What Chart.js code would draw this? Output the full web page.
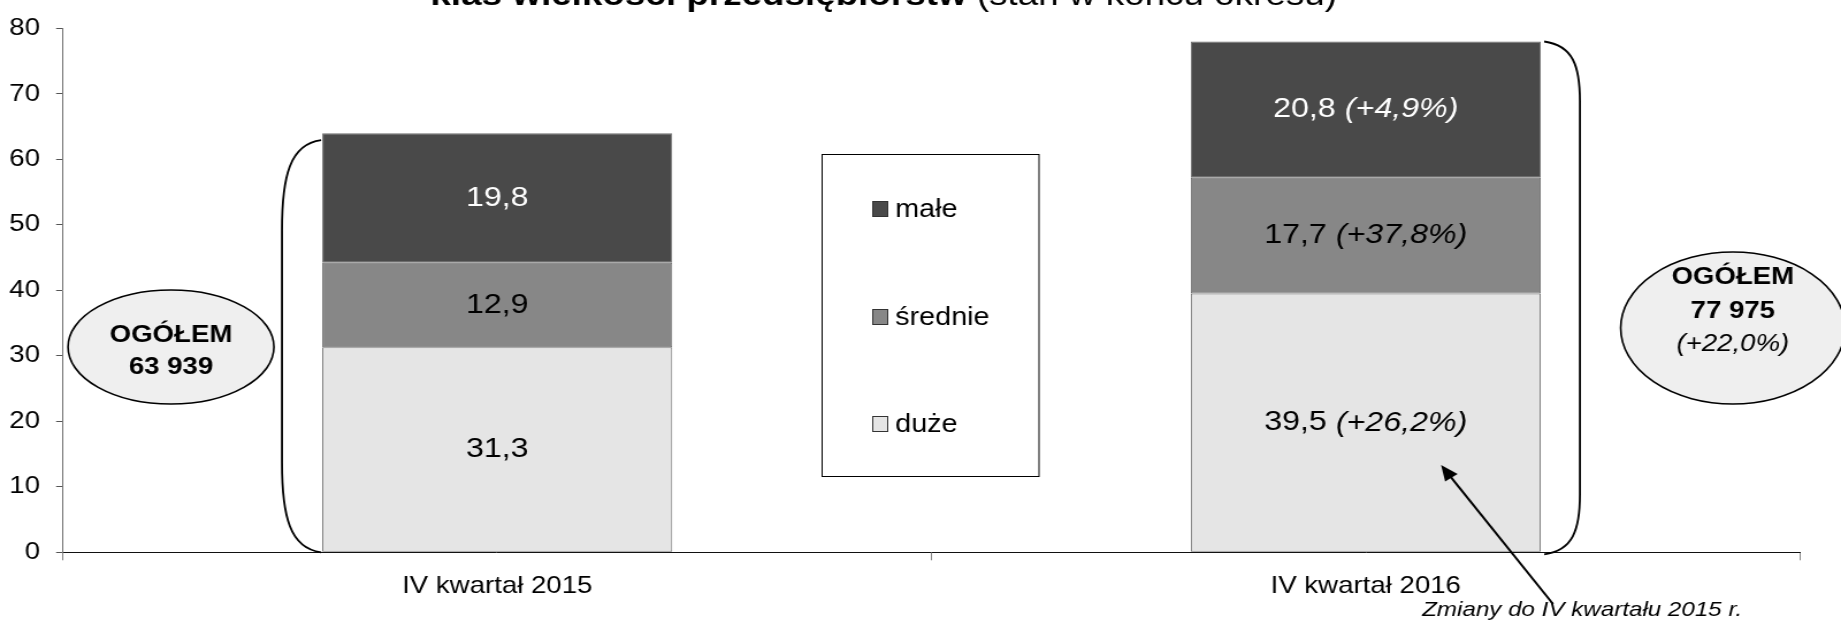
<!DOCTYPE html>
<html lang="pl">
<head>
<meta charset="utf-8">
<script src="https://cdn.jsdelivr.net/npm/chart.js@4.4.1/dist/chart.umd.min.js"></script>
<style>
  html, body { margin: 0; padding: 0; background: #fff; overflow: hidden; }
</style>
</head>
<body>
<!-- the original picture is stretched sideways, so the canvas is drawn narrower and widened by css -->
<canvas id="chart" width="1600" height="620" style="display:block;width:1841px;height:620px"></canvas>
<script>
const categories = ['IV kwartał 2015', 'IV kwartał 2016'];
const seriesNames = ['duże', 'średnie', 'małe'];
const duze = [31.3, 39.5];
const srednie = [12.9, 17.7];
const male = [19.8, 20.8];
// zmiany do IV kwartału 2015 r. w %
const duzeChange = [null, 26.2];
const srednieChange = [null, 37.8];
const maleChange = [null, 4.9];
const totals = ['63 939', '77 975'];
const totalChange = [null, 22.0];
const yTicks = [0, 10, 20, 30, 40, 50, 60, 70, 80];

const colors = ['#e5e5e5', '#878787', '#494949'];
const labelColors = ['#000', '#000', '#fff'];
const FONT = '"Liberation Sans", Arial, sans-serif';

Chart.defaults.font.family = FONT;
Chart.defaults.color = '#000';

function fmt(v) { return v.toFixed(1).replace('.', ','); }
function fmtChange(v) { return '(+' + fmt(v) + '%)'; }

// rysowanie nawiasu obok słupka
function bracket(ctx, x0, y0, y1, dx, bend) {
    const xe = x0 + dx;
    ctx.beginPath();
    ctx.moveTo(x0, y0);
    ctx.bezierCurveTo(x0 + dx * 0.8, y0 + 4, xe, y0 + bend * 0.4, xe, y0 + bend);
    ctx.lineTo(xe, y1 - bend);
    ctx.bezierCurveTo(xe, y1 - bend * 0.4, x0 + dx * 0.8, y1 - 4, x0, y1);
    ctx.stroke();
}

function bubble(ctx, cx, cy, rx, ry, lines) {
    ctx.beginPath();
    ctx.ellipse(cx, cy, rx, ry, 0, 0, Math.PI * 2);
    ctx.fillStyle = '#efefef';
    ctx.fill();
    ctx.lineWidth = 1.6;
    ctx.strokeStyle = '#000';
    ctx.stroke();
    ctx.fillStyle = '#000';
    ctx.textAlign = 'center';
    ctx.textBaseline = 'middle';
    lines.forEach(l => {
        ctx.font = l.font;
        ctx.fillText(l.text, cx, l.y);
    });
}

const extras = {
    id: 'extras',
    afterDatasetsDraw(chart) {
        const ctx = chart.ctx;
        const yScale = chart.scales.y;
        const metas = [0, 1, 2].map(i => chart.getDatasetMeta(i));
        const changes = [duzeChange, srednieChange, maleChange];
        ctx.save();

        // etykiety wartości w segmentach
        metas.forEach((meta, d) => {
            meta.data.forEach((bar, i) => {
                const value = chart.data.datasets[d].data[i];
                const cy = (bar.y + bar.base) / 2;
                const main = fmt(value);
                const ch = changes[d][i];
                ctx.fillStyle = labelColors[d];
                ctx.textBaseline = 'middle';
                ctx.textAlign = 'left';
                ctx.font = '28px ' + FONT;
                const w1 = ctx.measureText(main).width;
                let w2 = 0, extra = '';
                if (ch !== null) {
                    extra = ' ' + fmtChange(ch);
                    ctx.font = 'italic 28px ' + FONT;
                    w2 = ctx.measureText(extra).width;
                }
                const x = bar.x - (w1 + w2) / 2;
                ctx.font = '28px ' + FONT;
                ctx.fillText(main, x, cy);
                if (extra) {
                    ctx.font = 'italic 28px ' + FONT;
                    ctx.fillText(extra, x + w1, cy);
                }
            });
        });

        // nawiasy
        const top0 = metas[2].data[0], top1 = metas[2].data[1];
        const zero = yScale.getPixelForValue(0);
        ctx.strokeStyle = '#000';
        ctx.lineWidth = 1.8;
        bracket(ctx, top0.x - top0.width / 2 - 1, top0.y + 7, zero, -34, 90);
        bracket(ctx, top1.x + top1.width / 2 + 3, top1.y, zero + 2, 31, 60);

        // elipsy z sumą
        bubble(ctx, 148.6, 347, 89.5, 57, [
            { text: 'OGÓŁEM', y: 335, font: 'bold 24px ' + FONT },
            { text: totals[0], y: 367, font: 'bold 24px ' + FONT }
        ]);
        bubble(ctx, 1506, 328, 97.5, 76, [
            { text: 'OGÓŁEM', y: 277, font: 'bold 24px ' + FONT },
            { text: totals[1], y: 311, font: 'bold 24px ' + FONT },
            { text: fmtChange(totalChange[1]), y: 344, font: 'italic 24px ' + FONT }
        ]);

        // legenda
        ctx.lineWidth = 1;
        ctx.strokeStyle = '#000';
        ctx.fillStyle = '#fff';
        ctx.fillRect(714.5, 154.5, 188.5, 322);
        ctx.strokeRect(714.5, 154.5, 188.5, 322);
        const legendY = [209, 317, 424];
        [2, 1, 0].forEach((d, k) => {
            ctx.fillStyle = colors[d];
            ctx.fillRect(758, legendY[k] - 8, 14, 16);
            ctx.strokeStyle = '#333';
            ctx.strokeRect(758.5, legendY[k] - 7.5, 13, 15);
            ctx.fillStyle = '#000';
            ctx.font = '25px ' + FONT;
            ctx.textAlign = 'left';
            ctx.textBaseline = 'middle';
            ctx.fillText(seriesNames[d], 778, legendY[k] + 1);
        });

        // strzałka z opisem
        const tx = 1349.7, ty = 604, hx = 1252.4, hy = 465;
        const ang = Math.atan2(hy - ty, hx - tx);
        ctx.strokeStyle = '#000';
        ctx.lineWidth = 2;
        ctx.beginPath();
        ctx.moveTo(tx, ty);
        ctx.lineTo(hx - Math.cos(ang) * 10, hy - Math.sin(ang) * 10);
        ctx.stroke();
        ctx.fillStyle = '#000';
        ctx.beginPath();
        ctx.moveTo(hx, hy);
        ctx.lineTo(hx - 17 * Math.cos(ang - 0.4), hy - 17 * Math.sin(ang - 0.4));
        ctx.lineTo(hx - 17 * Math.cos(ang + 0.4), hy - 17 * Math.sin(ang + 0.4));
        ctx.closePath();
        ctx.fill();
        ctx.font = 'italic 21px ' + FONT;
        ctx.textAlign = 'left';
        ctx.textBaseline = 'alphabetic';
        ctx.fillText('Zmiany do IV kwartału 2015 r.', 1236, 616);

        // tytuł (przycięty u góry jak w oryginale)
        const tBold = 'klas wielkości przedsiębiorstw';
        const tNorm = ' (stan w końcu okresu)';
        ctx.font = 'bold 32px ' + FONT;
        const wb = ctx.measureText(tBold).width;
        ctx.font = '32px ' + FONT;
        const wn = ctx.measureText(tNorm).width;
        const tx0 = 768 - (wb + wn) / 2;
        ctx.font = 'bold 32px ' + FONT;
        ctx.fillText(tBold, tx0, 5);
        ctx.font = '32px ' + FONT;
        ctx.fillText(tNorm, tx0 + wb, 5);

        ctx.restore();
    }
};

const ctx = document.getElementById('chart').getContext('2d');
const chart = new Chart(ctx, {
    type: 'bar',
    data: {
        labels: categories,
        datasets: [
            { label: seriesNames[0], data: duze, backgroundColor: colors[0] },
            { label: seriesNames[1], data: srednie, backgroundColor: colors[1] },
            { label: seriesNames[2], data: male, backgroundColor: colors[2] }
        ].map(ds => Object.assign(ds, {
            borderColor: '#6e6e6e', borderWidth: 1, borderSkipped: false,
            barPercentage: 0.403, categoryPercentage: 1
        }))
    },
    options: {
        responsive: false,
        animation: false,
        devicePixelRatio: 1,
        layout: { padding: { top: 21.7, right: 35.6, left: 0, bottom: 0 } },
        plugins: { legend: { display: false }, tooltip: { enabled: false }, title: { display: false } },
        scales: {
            x: {
                stacked: true,
                offset: true,
                grid: { offset: true, drawOnChartArea: false, tickLength: 8, color: '#888' },
                border: { color: '#111' },
                ticks: { font: { size: 24 }, color: '#000', padding: 12, maxRotation: 0 },
                afterFit: s => { s.height = 67.7; }
            },
            y: {
                stacked: true,
                min: 0,
                max: 80,
                afterBuildTicks: s => { s.ticks = yTicks.map(v => ({ value: v })); },
                grid: { drawOnChartArea: false, tickLength: 6, color: '#555' },
                border: { color: '#777' },
                ticks: { font: { size: 24 }, color: '#000', padding: 14 },
                afterFit: s => { s.width = 54.75; }
            }
        }
    },
    plugins: [extras]
});
</script>
</body>
</html>
